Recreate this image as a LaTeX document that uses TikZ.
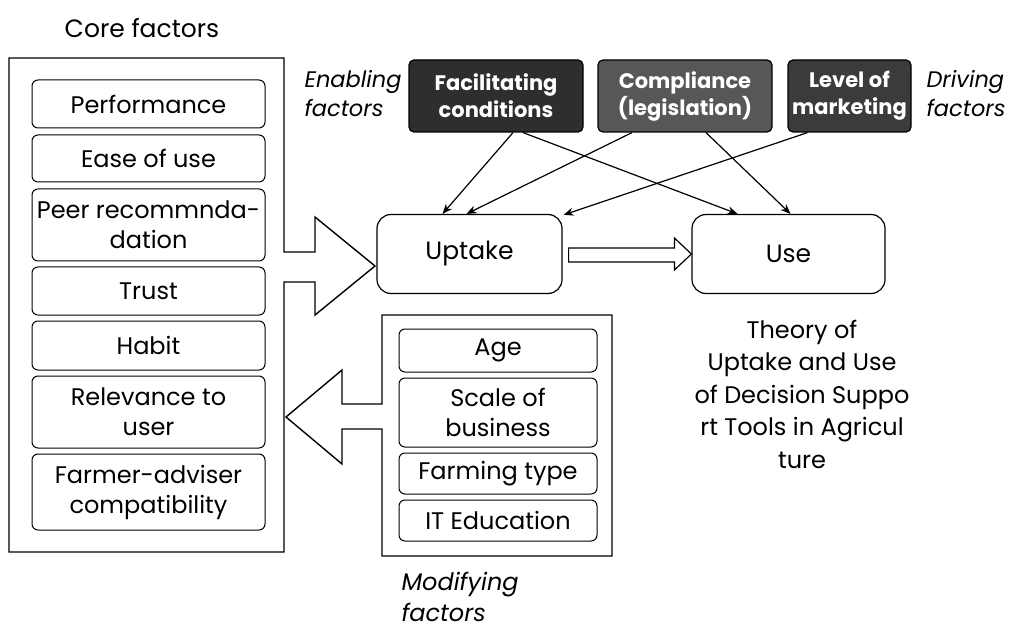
\documentclass[tikz,border=0pt]{standalone}
\usepackage{fontspec}
\setmainfont{Poppins}
\usetikzlibrary{arrows.meta}

\begin{document}
\begin{tikzpicture}[x=1pt, y=-1pt,
  factor/.style = {draw, rounded corners=6pt, line width=1pt, align=center, inner sep=0pt, font=\fontsize{24}{30}\selectfont},
  core/.style = {factor, minimum width=233pt},
  modif/.style = {factor, minimum width=198pt},
  darkbox/.style = {draw, rounded corners=5pt, line width=1.2pt, text=white, align=center, minimum height=72pt, inner sep=0pt, font=\bfseries\fontsize{21}{27}\selectfont},
  stage/.style = {draw, rounded corners=14pt, line width=1.2pt, minimum height=79pt, font=\fontsize{25}{30}\selectfont},
  lbl/.style = {font=\itshape\fontsize{22.5}{29}\selectfont, align=left},
  conn/.style = {-{Stealth[length=10pt,width=8pt]}, line width=1.2pt}]

\useasboundingbox (0,0) rectangle (1009,628);

% core factors
\node[font=\fontsize{25}{30}\selectfont] (coretitle) at (142,28) {Core factors};
\draw[line width=1.4pt] (9,58) -- (284,58) -- (284,252) -- (315,252) -- (315,217) -- (375,266)
  -- (315,315) -- (315,282) -- (284,282) -- (284,552) -- (9,552) -- cycle;
\node[core, minimum height=48pt] (perf) at (148.5,104) {Performance};
\node[core, minimum height=47pt] (ease) at (148.5,158.5) {Ease of use};
\node[core, minimum height=72pt] (peer) at (148.5,225) {Peer recommnda-\\dation};
\node[core, minimum height=48pt] (trust) at (148.5,291) {Trust};
\node[core, minimum height=49pt] (habit) at (148.5,345.5) {Habit};
\node[core, minimum height=72pt] (relev) at (148.5,412) {Relevance to\\user};
\node[core, minimum height=76pt] (compat) at (148.5,492) {Farmer-adviser\\compatibility};

% enabling and driving factors
\node[lbl, anchor=west] (enabling) at (301,94) {Enabling\\factors};
\node[darkbox, fill=black!82, minimum width=174pt] (facil) at (496,96) {Facilitating\\conditions};
\node[darkbox, fill=black!66, minimum width=174pt] (compl) at (685,96) {Compliance\\(legislation)};
\node[darkbox, fill=black!77, minimum width=123pt] (market) at (849.5,96) {Level of\\marketing};
\node[lbl, anchor=west] (driving) at (923,94) {Driving\\factors};

% uptake and use
\node[stage, minimum width=185pt] (uptake) at (469.5,254) {Uptake};
\node[stage, minimum width=193pt] (use) at (788.5,254) {Use};
\draw[line width=1.2pt] ([xshift=6pt,yshift=6pt]uptake.east) -- ([xshift=-17pt,yshift=6pt]use.west)
  -- ([xshift=-17pt,yshift=16pt]use.west) -- (use.west) -- ([xshift=-17pt,yshift=-16pt]use.west)
  -- ([xshift=-17pt,yshift=-8pt]use.west) -- ([xshift=6pt,yshift=-8pt]uptake.east) -- cycle;

\draw[conn] ([xshift=17pt]facil.south) -- ([xshift=-27pt]uptake.north);
\draw[conn] ([xshift=27pt]facil.south) -- ([xshift=-51pt]use.north);
\draw[conn] ([xshift=-53pt]compl.south) -- ([xshift=-3pt]uptake.north);
\draw[conn] ([xshift=21pt]compl.south) -- ([xshift=2pt]use.north);
\draw[conn] ([xshift=-42pt]market.south) -- ([xshift=1pt,yshift=-1pt]uptake.north east);

\node[font=\fontsize{24}{32.5}\selectfont, align=center] (theory) at (802,394)
  {Theory of\\Uptake and Use\\of Decision Suppo\\rt Tools in Agricul\\ture};

% modifying factors
\draw[line width=1.4pt] (382,315) -- (612,315) -- (612,556) -- (382,556) -- (382,429) -- (342,429)
  -- (342,464) -- (286,417) -- (342,370) -- (342,404) -- (382,404) -- cycle;
\node[modif, minimum height=43pt] (age) at (498,350.5) {Age};
\node[modif, minimum height=69pt] (scale) at (498,412.5) {Scale of\\business};
\node[modif, minimum height=41pt] (ftype) at (498,473.5) {Farming type};
\node[modif, minimum height=41pt] (itedu) at (498,520.5) {IT Education};
\node[lbl, anchor=west, font=\itshape\fontsize{24}{31}\selectfont] (modifying) at (398,597) {Modifying\\factors};
\end{tikzpicture}
\end{document}
